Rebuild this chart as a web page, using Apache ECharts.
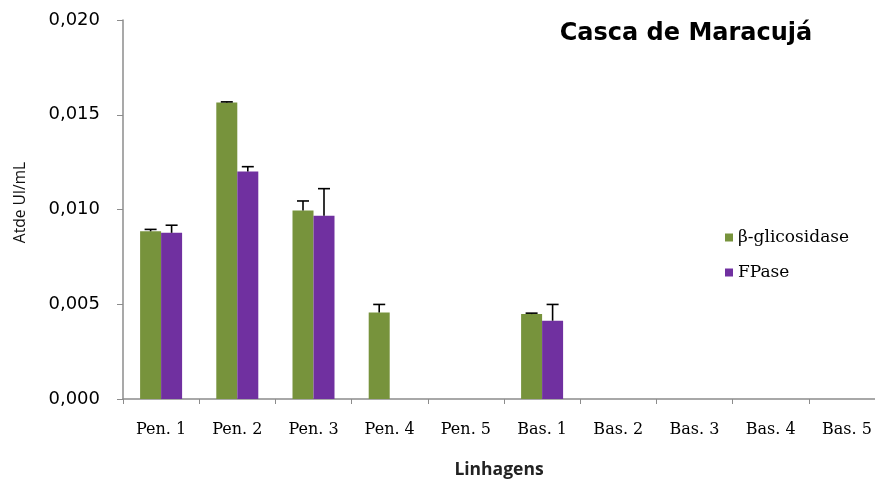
<!DOCTYPE html>
<html>
<head>
<meta charset="utf-8">
<script src="https://cdn.jsdelivr.net/npm/echarts@6/dist/echarts.min.js"></script>
<style>
  html, body { margin: 0; padding: 0; background: #fff; }
  #chart { width: 875px; height: 479px; }
</style>
</head>
<body>
<div id="chart"></div>
<script>
// Fungal strains
const categories = ['Pen. 1', 'Pen. 2', 'Pen. 3', 'Pen. 4', 'Pen. 5', 'Bas. 1', 'Bas. 2', 'Bas. 3', 'Bas. 4', 'Bas. 5'];
// Enzyme activity (UI/mL) and standard deviation
const betaGlic = [0.00885, 0.01565, 0.00995, 0.00457, 0, 0.00448, 0, 0, 0, 0];
const betaGlicErr = [0.0001, 0.00003, 0.0005, 0.00042, 0, 0.00005, 0, 0, 0, 0];
const fpase = [0.00877, 0.0120, 0.00967, 0, 0, 0.00413, 0, 0, 0, 0];
const fpaseErr = [0.0004, 0.00026, 0.00143, 0, 0, 0.00086, 0, 0, 0, 0];
const yTicks = [0, 0.005, 0.010, 0.015, 0.020];

const BAR_W = 21;
const GREEN = '#77933C';
const PURPLE = '#7030A0';

// Plus-only error bars drawn above each bar
function errorBars(values, errs, offset) {
  return {
    type: 'custom',
    silent: true,
    z: 5,
    data: values.map((v, i) => [i, v, errs[i]]),
    renderItem: function (params, api) {
      const i = api.value(0), v = api.value(1), e = api.value(2);
      if (!v) return null;
      const base = api.coord([i, v]);
      const top = api.coord([i, v + e]);
      const x = base[0] + offset;
      const style = { stroke: '#000', lineWidth: 1.6 };
      return {
        type: 'group',
        children: [
          { type: 'line', shape: { x1: x, y1: base[1], x2: x, y2: top[1] }, style },
          { type: 'line', shape: { x1: x - 6, y1: top[1], x2: x + 6, y2: top[1] }, style }
        ]
      };
    }
  };
}

const chart = echarts.init(document.getElementById('chart'));
chart.setOption({
  animation: false,
  backgroundColor: '#fff',
  title: {
    text: 'Casca de Maracujá',
    left: 681, top: 17, textAlign: 'center',
    textStyle: { fontFamily: 'DejaVu Sans', fontWeight: 'bold', fontSize: 24, color: '#000' }
  },
  legend: {
    orient: 'vertical',
    left: 720, top: 224,
    itemWidth: 8, itemHeight: 8, itemGap: 18,
    icon: 'rect',
    textStyle: { fontFamily: 'DejaVu Serif', fontSize: 17, color: '#000' },
    data: ['β-glicosidase', 'FPase']
  },
  grid: { left: 123, width: 762, top: 20, height: 379, containLabel: false, outerBoundsMode: 'none' },
  xAxis: {
    type: 'category',
    data: categories,
    name: 'Linhagens',
    nameLocation: 'middle',
    nameGap: 62,
    nameTextStyle: { fontFamily: 'Open Sans', fontWeight: 'bold', fontSize: 17.5, color: '#222', padding: [0, 10, 0, 0] },
    axisLine: { lineStyle: { color: '#8c8c8c', width: 1.5 } },
    axisTick: { show: true, length: 5, lineStyle: { color: '#8c8c8c' } },
    axisLabel: { fontFamily: 'DejaVu Serif', fontSize: 16, color: '#000', margin: 23 }
  },
  yAxis: {
    type: 'value',
    min: 0, max: 0.02, interval: 0.005,
    name: 'Atde UI/mL',
    nameLocation: 'middle',
    nameGap: 94,
    nameTextStyle: { fontFamily: 'Open Sans', fontSize: 15.5, color: '#111', padding: [0, 0, 0, 14] },
    axisLine: { show: true, lineStyle: { color: '#8c8c8c', width: 1.5 } },
    axisTick: { show: true, length: 6, lineStyle: { color: '#8c8c8c' } },
    splitLine: { show: false },
    axisLabel: {
      fontFamily: 'DejaVu Sans', fontSize: 18, color: '#000', margin: 23,
      formatter: v => {
        const t = yTicks.find(y => Math.abs(y - v) < 1e-9);
        return (t !== undefined ? t : v).toFixed(3).replace('.', ',');
      }
    }
  },
  series: [
    {
      name: 'β-glicosidase', type: 'bar', data: betaGlic,
      barWidth: BAR_W, barGap: '0%',
      itemStyle: { color: GREEN }
    },
    {
      name: 'FPase', type: 'bar', data: fpase,
      barWidth: BAR_W, barGap: '0%',
      itemStyle: { color: PURPLE }
    },
    errorBars(betaGlic, betaGlicErr, -BAR_W / 2),
    errorBars(fpase, fpaseErr, BAR_W / 2)
  ]
});
</script>
</body>
</html>
